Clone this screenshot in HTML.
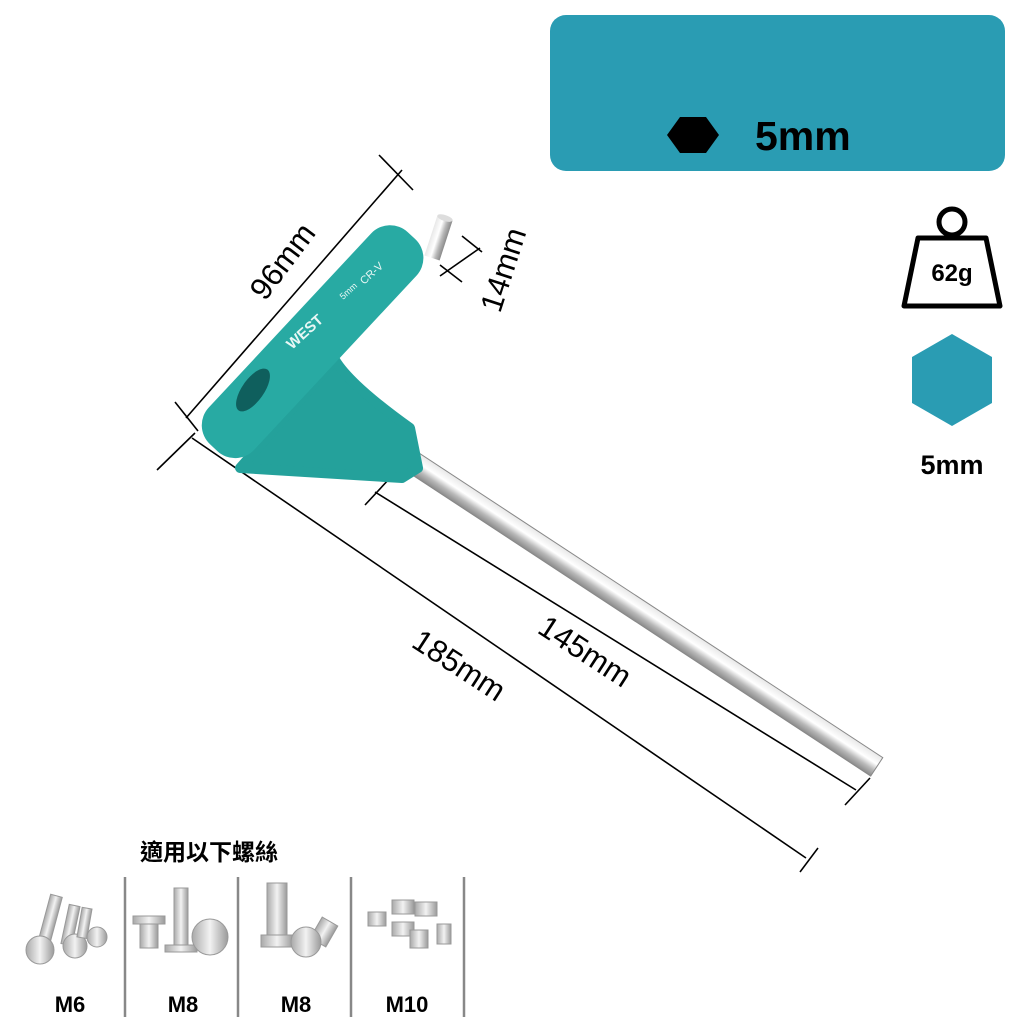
<!DOCTYPE html>
<html><head><meta charset="utf-8"><style>
html,body{margin:0;padding:0;background:#fff;width:1024px;height:1024px;overflow:hidden}
svg{display:block}
text{font-family:"Liberation Sans","Noto Sans CJK TC",sans-serif}
</style></head><body>
<svg width="1024" height="1024" viewBox="0 0 1024 1024" xmlns="http://www.w3.org/2000/svg">
<defs>
<linearGradient id="sh" x1="0" y1="0" x2="0" y2="1">
<stop offset="0" stop-color="#e8e8e8"/><stop offset="0.4" stop-color="#ffffff"/><stop offset="0.7" stop-color="#b8b8b8"/><stop offset="1" stop-color="#8a8a8a"/>
</linearGradient>
<linearGradient id="sc" x1="0" y1="0" x2="1" y2="0">
<stop offset="0" stop-color="#a9a9a9"/><stop offset="0.5" stop-color="#f2f2f2"/><stop offset="1" stop-color="#9a9a9a"/>
</linearGradient>
</defs>
<rect x="550" y="15" width="455" height="156" rx="16" fill="#2a9cb3"/>
<polygon points="680,117 706,117 719,135 706,153 680,153 667,135" fill="#000"/>
<text x="755" y="150" font-size="41" font-weight="bold" fill="#000">5mm</text>
<circle cx="952" cy="222" r="13" fill="none" stroke="#000" stroke-width="5"/>
<path d="M918,238 L986,238 L1000,306 L904,306 Z" fill="#fff" stroke="#000" stroke-width="5" stroke-linejoin="round"/>
<text x="952" y="281" font-size="24" font-weight="bold" text-anchor="middle" fill="#000">62g</text>
<polygon points="952,334 992,357 992,403 952,426 912,403 912,357" fill="#2a9cb3"/>
<text x="952" y="474" font-size="27" font-weight="bold" text-anchor="middle" fill="#000">5mm</text>
<g stroke="#000" stroke-width="1.6" fill="none">
<line x1="186" y1="418" x2="402" y2="170"/>
<line x1="175" y1="402" x2="198" y2="431"/>
<line x1="379" y1="155" x2="413" y2="190"/>
<line x1="192" y1="438" x2="806" y2="858"/>
<line x1="157" y1="470" x2="195" y2="433"/>
<line x1="800" y1="872" x2="818" y2="848"/>
<line x1="375" y1="492" x2="856" y2="790"/>
<line x1="365" y1="505" x2="390" y2="478"/>
<line x1="845" y1="805" x2="870" y2="778"/>
<line x1="440" y1="276" x2="480" y2="248"/>
<line x1="462" y1="236" x2="482" y2="252"/>
<line x1="440" y1="265" x2="462" y2="282"/>
</g>
<text font-size="31" fill="#000" transform="translate(265,302) rotate(-53)">96mm</text>
<text font-size="31" fill="#000" transform="translate(500,314) rotate(-72)">14mm</text>
<text font-size="31" fill="#000" transform="translate(410,646) rotate(33)">185mm</text>
<text font-size="31" fill="#000" transform="translate(536,632) rotate(33)">145mm</text>
<g transform="translate(402,455) rotate(33.3)">
<rect x="0" y="-11" width="568" height="22" fill="url(#sh)" stroke="#888" stroke-width="1"/>
</g>
<g transform="translate(432,258) rotate(-72)">
<rect x="0" y="-8" width="42" height="16" fill="url(#sh)"/>
<ellipse cx="42" cy="0" rx="3" ry="8" fill="#ddd"/>
</g>
<path d="M335,360 Q350,385 410,428 L418,468 L402,478 L240,468 Z" fill="#24a19b" stroke="#24a19b" stroke-width="10" stroke-linejoin="round"/>
<g transform="translate(316,338) rotate(-47)">
<rect x="-150" y="-31" width="290" height="62" rx="26" fill="#28aaa3"/>
</g>
<ellipse cx="253" cy="390" rx="11" ry="25" transform="rotate(35 253 390)" fill="#0f5f5d"/>
<text font-size="15" font-weight="bold" fill="#e8f7f5" transform="translate(292,350) rotate(-42)">WEST</text>
<text font-size="9" fill="#e8f7f5" transform="translate(343,300) rotate(-42)">5mm</text>
<text font-size="11" fill="#e8f7f5" transform="translate(364,285) rotate(-42)">CR-V</text>
<text x="140" y="860" font-size="23" font-weight="bold" fill="#000">適用以下螺絲</text>
<g stroke="#888" stroke-width="2.5">
<line x1="125" y1="877" x2="125" y2="1017"/>
<line x1="238" y1="877" x2="238" y2="1017"/>
<line x1="351" y1="877" x2="351" y2="1017"/>
<line x1="464" y1="877" x2="464" y2="1017"/>
</g>
<g fill="url(#sc)" stroke="#999" stroke-width="1">
<rect x="44" y="895" width="12" height="45" transform="rotate(15 50 920)"/>
<circle cx="40" cy="950" r="14"/>
<rect x="65" y="905" width="11" height="40" transform="rotate(12 70 925)"/>
<circle cx="75" cy="946" r="12"/>
<rect x="80" y="908" width="10" height="30" transform="rotate(10 85 920)"/>
<circle cx="97" cy="937" r="10"/>
<rect x="140" y="920" width="18" height="28"/><rect x="133" y="916" width="32" height="8"/>
<rect x="174" y="888" width="14" height="60"/><rect x="165" y="945" width="32" height="7"/>
<circle cx="210" cy="937" r="18"/>
<rect x="267" y="883" width="20" height="52"/><rect x="261" y="935" width="32" height="12"/>
<rect x="315" y="920" width="18" height="24" transform="rotate(30 324 932)"/>
<circle cx="306" cy="942" r="15"/>
<rect x="392" y="900" width="22" height="14"/><rect x="415" y="902" width="22" height="14"/>
<rect x="368" y="912" width="18" height="14"/><rect x="392" y="922" width="22" height="14"/>
<rect x="410" y="930" width="18" height="18"/><rect x="437" y="924" width="14" height="20"/>
</g>
<g font-size="22" font-weight="bold" fill="#000" text-anchor="middle">
<text x="70" y="1012">M6</text>
<text x="183" y="1012">M8</text>
<text x="296" y="1012">M8</text>
<text x="407" y="1012">M10</text>
</g>
</svg>
</body></html>
